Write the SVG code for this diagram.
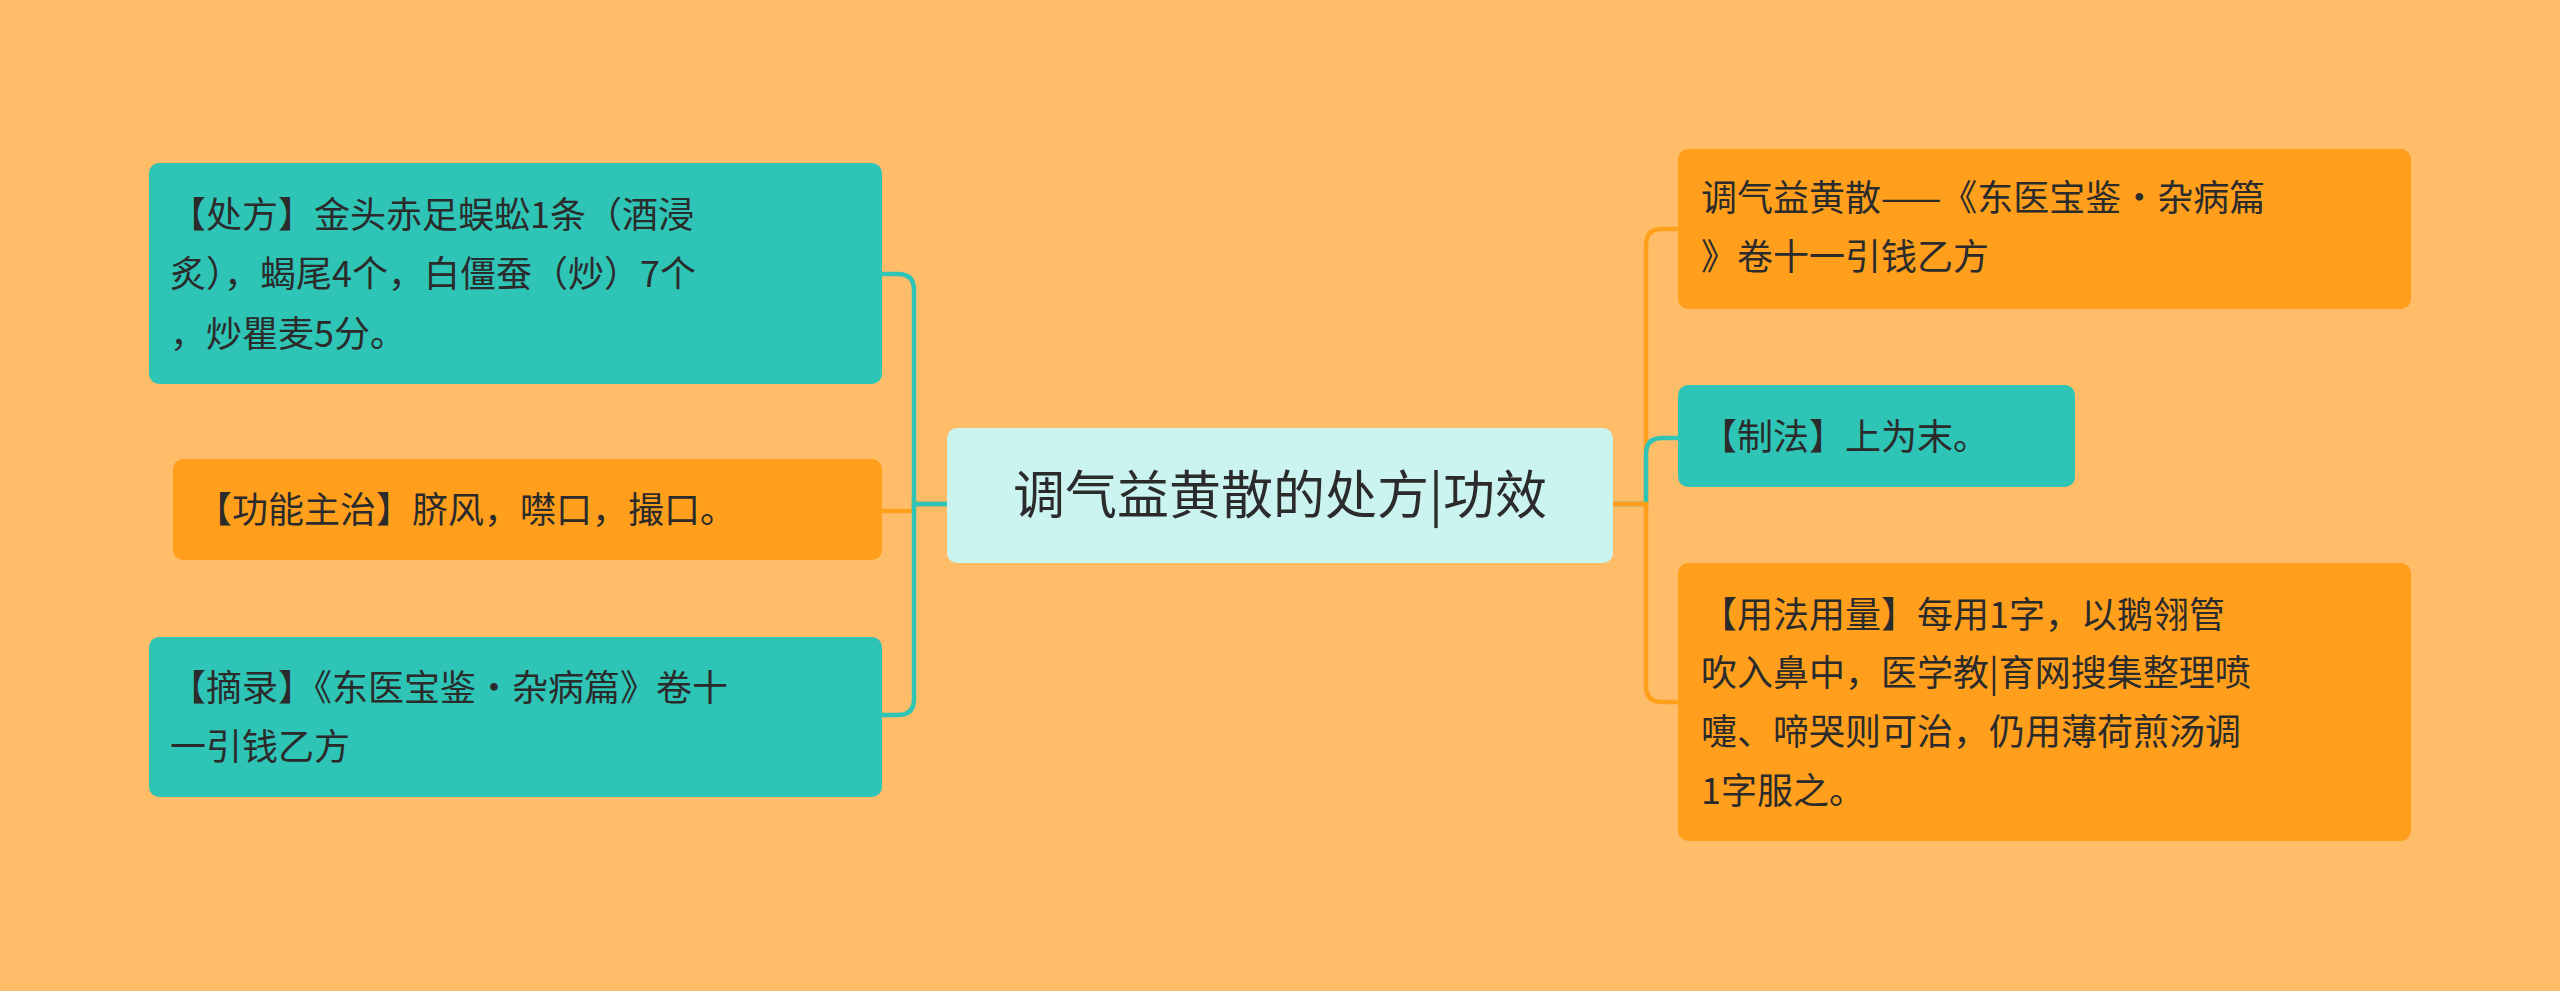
<svg xmlns="http://www.w3.org/2000/svg" width="2560" height="991" viewBox="0 0 2560 991">
<style>
text{font-family:"Noto Sans CJK SC","Noto Sans",sans-serif;fill:#2b2b2b;font-size:36px}
.t{fill:#2EC4B6}.o{fill:#FF9F1C}
.c{fill:none;stroke-width:4.5}
</style>
<rect width="2560" height="991" fill="#FFBD69"/>
<g id="connectors">
<path class="c" stroke="#2EC4B6" d="M947 504H914V290Q914 274 898 274H882"/>
<path class="c" stroke="#FF9F1C" d="M947 504H914V511H882"/>
<path class="c" stroke="#2EC4B6" d="M947 504H914V699Q914 715 898 715H882"/>
<path class="c" stroke="#FF9F1C" d="M1613 504H1646V245Q1646 229 1662 229H1678"/>
<path class="c" stroke="#2EC4B6" d="M1613 504H1646V454Q1646 438 1662 438H1678"/>
<path class="c" stroke="#FF9F1C" d="M1613 504H1646V686Q1646 702 1662 702H1678"/>
</g>
<g id="center"><rect x="947" y="428" width="666" height="135" rx="10" fill="#CBF3F0"/><text x="1280" y="514" text-anchor="middle" style="font-size:52px">调气益黄散的处方|功效</text></g>
<g id="l1"><rect class="t" x="149" y="163" width="733" height="221" rx="10"/>
<text x="170" y="228">【处方】金头赤足蜈蚣1条（酒浸</text><text x="170" y="287">炙），蝎尾4个，白僵蚕（炒）7个</text><text x="170" y="347">，炒瞿麦5分。</text></g>
<g id="l2"><rect class="o" x="173" y="459" width="709" height="101" rx="10"/><text x="196" y="523">【功能主治】脐风，噤口，撮口。</text></g>
<g id="l3"><rect class="t" x="149" y="637" width="733" height="160" rx="10"/><text x="170" y="701">【摘录】《东医宝鉴·杂病篇》卷十</text><text x="170" y="760">一引钱乙方</text></g>
<g id="r1"><rect class="o" x="1678" y="149" width="733" height="160" rx="10"/><text x="1701" y="211">调气益黄散——《东医宝鉴·杂病篇</text><text x="1701" y="270">》卷十一引钱乙方</text></g>
<g id="r2"><rect class="t" x="1678" y="385" width="397" height="102" rx="10"/><text x="1701" y="450">【制法】上为末。</text></g>
<g id="r3"><rect class="o" x="1678" y="563" width="733" height="278" rx="10"/><text x="1701" y="628">【用法用量】每用1字，以鹅翎管</text><text x="1701" y="686">吹入鼻中，医学教|育网搜集整理喷</text><text x="1701" y="745">嚏、啼哭则可治，仍用薄荷煎汤调</text><text x="1701" y="804">1字服之。</text></g>
</svg>
